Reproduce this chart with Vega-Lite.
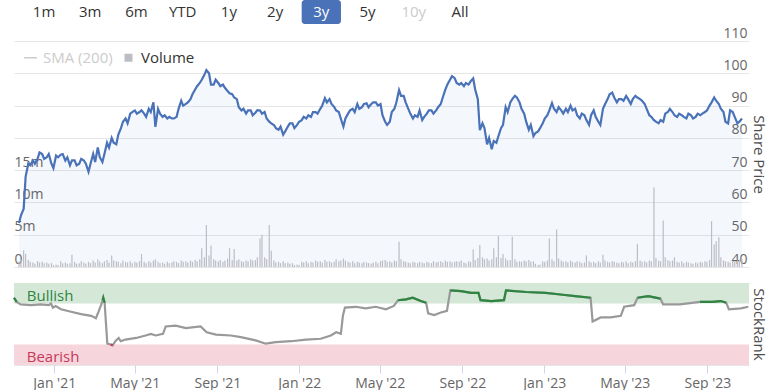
{
"$schema":"https://vega.github.io/schema/vega-lite/v6.json",
"padding":{"left":9,"top":0,"right":6,"bottom":0},
"config":{"font":"Open Sans","view":{"stroke":null},"axis":{"labelFontSize":14,"labelColor":"#666666","titleFontSize":15,"titleFontWeight":"normal","titleColor":"#4d4d4d"}},
"datasets":{
"btn":[{"b":"1m","s":"n"},{"b":"3m","s":"n"},{"b":"6m","s":"n"},{"b":"YTD","s":"n"},{"b":"1y","s":"n"},{"b":"2y","s":"n"},{"b":"3y","s":"sel"},{"b":"5y","s":"n"},{"b":"10y","s":"dis"},{"b":"All","s":"n"}],
"bands":[{"z":"Bullish","lo":75,"hi":100,"d":"2020-11-21"},{"z":"Bearish","lo":0,"hi":25,"d":"2020-11-21"}],
"px":[
{"d":"2020-11-02","p":53.6,"v":0.9},{"d":"2020-11-05","p":56,"v":1.2},{"d":"2020-11-09","p":58,"v":2.6},{"d":"2020-11-12","p":68,"v":2.0},
{"d":"2020-11-16","p":72,"v":1.1},{"d":"2020-11-19","p":71.5,"v":0.8},{"d":"2020-11-23","p":73,"v":0.7},{"d":"2020-11-26","p":72,"v":0.5},
{"d":"2020-11-30","p":73.5,"v":0.9},{"d":"2020-12-03","p":75.5,"v":0.7},{"d":"2020-12-07","p":75,"v":0.8},{"d":"2020-12-10","p":73.5,"v":0.6},
{"d":"2020-12-14","p":74,"v":0.7},{"d":"2020-12-17","p":75,"v":0.5},{"d":"2020-12-21","p":72,"v":0.6},{"d":"2020-12-24","p":70.6,"v":0.3},
{"d":"2020-12-28","p":74.5,"v":0.4},{"d":"2020-12-31","p":74,"v":0.3},{"d":"2021-01-04","p":74.8,"v":0.9},{"d":"2021-01-07","p":75,"v":0.6},
{"d":"2021-01-11","p":73,"v":0.7},{"d":"2021-01-14","p":74,"v":0.5},{"d":"2021-01-18","p":71.5,"v":0.6},{"d":"2021-01-21","p":73,"v":1.9},
{"d":"2021-01-25","p":73,"v":0.8},{"d":"2021-01-28","p":71.5,"v":0.5},{"d":"2021-02-01","p":72,"v":0.6},{"d":"2021-02-04","p":73.5,"v":0.9},
{"d":"2021-02-08","p":73,"v":0.7},{"d":"2021-02-11","p":72,"v":0.5},{"d":"2021-02-15","p":69.5,"v":0.8},{"d":"2021-02-18","p":72,"v":0.6},
{"d":"2021-02-22","p":75,"v":1.0},{"d":"2021-02-25","p":72.5,"v":0.7},{"d":"2021-03-01","p":77,"v":1.2},{"d":"2021-03-04","p":74,"v":0.8},
{"d":"2021-03-08","p":72.5,"v":0.6},{"d":"2021-03-11","p":75,"v":0.9},{"d":"2021-03-15","p":78.5,"v":1.1},{"d":"2021-03-18","p":77,"v":0.7},
{"d":"2021-03-22","p":80,"v":1.8},{"d":"2021-03-25","p":78.5,"v":1.0},{"d":"2021-03-29","p":78,"v":0.9},{"d":"2021-04-01","p":81,"v":0.8},
{"d":"2021-04-05","p":83,"v":0.6},{"d":"2021-04-08","p":85,"v":1.0},{"d":"2021-04-12","p":86,"v":0.8},{"d":"2021-04-15","p":84.5,"v":0.7},
{"d":"2021-04-19","p":87.5,"v":0.9},{"d":"2021-04-22","p":88,"v":0.6},{"d":"2021-04-26","p":88.5,"v":0.8},{"d":"2021-04-29","p":87.5,"v":0.7},
{"d":"2021-05-03","p":88,"v":0.9},{"d":"2021-05-06","p":88.5,"v":2.0},{"d":"2021-05-10","p":87.5,"v":0.8},{"d":"2021-05-13","p":86.5,"v":0.6},
{"d":"2021-05-17","p":89,"v":0.9},{"d":"2021-05-20","p":88,"v":0.7},{"d":"2021-05-24","p":91,"v":1.0},{"d":"2021-05-27","p":83.4,"v":1.2},
{"d":"2021-05-31","p":89,"v":0.8},{"d":"2021-06-03","p":87.5,"v":0.6},{"d":"2021-06-07","p":86.5,"v":0.7},{"d":"2021-06-10","p":87,"v":0.5},
{"d":"2021-06-14","p":86,"v":0.8},{"d":"2021-06-17","p":86.5,"v":0.6},{"d":"2021-06-21","p":86,"v":0.7},{"d":"2021-06-24","p":86,"v":0.9},
{"d":"2021-06-28","p":86.5,"v":0.8},{"d":"2021-07-01","p":89,"v":0.6},{"d":"2021-07-05","p":91.5,"v":1.0},{"d":"2021-07-08","p":90,"v":0.8},
{"d":"2021-07-12","p":90.5,"v":0.9},{"d":"2021-07-15","p":91,"v":0.7},{"d":"2021-07-19","p":92,"v":1.0},{"d":"2021-07-22","p":93.5,"v":0.8},
{"d":"2021-07-26","p":95,"v":1.1},{"d":"2021-07-29","p":96,"v":0.9},{"d":"2021-08-02","p":97,"v":1.2},{"d":"2021-08-05","p":98,"v":2.9},
{"d":"2021-08-09","p":99.5,"v":1.5},{"d":"2021-08-12","p":101,"v":6.5},{"d":"2021-08-16","p":100,"v":1.8},{"d":"2021-08-19","p":96.5,"v":3.3},
{"d":"2021-08-23","p":96.5,"v":1.2},{"d":"2021-08-26","p":98,"v":1.0},{"d":"2021-08-30","p":97,"v":0.9},{"d":"2021-09-02","p":96,"v":1.1},
{"d":"2021-09-06","p":96.5,"v":0.8},{"d":"2021-09-09","p":95.5,"v":1.0},{"d":"2021-09-13","p":94.5,"v":1.3},{"d":"2021-09-16","p":93.8,"v":2.9},
{"d":"2021-09-20","p":93.5,"v":1.1},{"d":"2021-09-23","p":92.5,"v":2.8},{"d":"2021-09-27","p":92,"v":1.0},{"d":"2021-09-30","p":89.5,"v":1.2},
{"d":"2021-10-04","p":88.5,"v":0.9},{"d":"2021-10-07","p":89,"v":0.8},{"d":"2021-10-11","p":87.5,"v":1.0},{"d":"2021-10-14","p":88.5,"v":0.9},
{"d":"2021-10-18","p":88.5,"v":1.2},{"d":"2021-10-21","p":87,"v":1.0},{"d":"2021-10-25","p":87.8,"v":1.1},{"d":"2021-10-28","p":88.6,"v":1.5},
{"d":"2021-11-01","p":88.5,"v":4.4},{"d":"2021-11-04","p":87.5,"v":5.0},{"d":"2021-11-08","p":88,"v":1.5},{"d":"2021-11-11","p":86,"v":1.2},
{"d":"2021-11-15","p":85,"v":6.5},{"d":"2021-11-18","p":84.5,"v":2.5},{"d":"2021-11-22","p":84,"v":1.0},{"d":"2021-11-25","p":83,"v":0.7},
{"d":"2021-11-29","p":82.5,"v":0.8},{"d":"2021-12-02","p":83.5,"v":0.6},{"d":"2021-12-06","p":81,"v":0.9},{"d":"2021-12-09","p":82,"v":0.6},
{"d":"2021-12-13","p":83.5,"v":0.7},{"d":"2021-12-16","p":84.5,"v":0.5},{"d":"2021-12-20","p":84.5,"v":0.6},{"d":"2021-12-23","p":83,"v":0.3},
{"d":"2021-12-27","p":84,"v":0.4},{"d":"2021-12-30","p":85,"v":0.3},{"d":"2022-01-03","p":85.5,"v":0.8},{"d":"2022-01-06","p":86.5,"v":0.7},
{"d":"2022-01-10","p":86,"v":0.9},{"d":"2022-01-13","p":87,"v":0.6},{"d":"2022-01-17","p":86.5,"v":0.8},{"d":"2022-01-20","p":88,"v":0.7},
{"d":"2022-01-24","p":88,"v":1.0},{"d":"2022-01-27","p":87.5,"v":0.8},{"d":"2022-01-31","p":89,"v":0.9},{"d":"2022-02-03","p":90,"v":0.7},
{"d":"2022-02-07","p":92.3,"v":1.1},{"d":"2022-02-10","p":91,"v":0.8},{"d":"2022-02-14","p":92,"v":0.9},{"d":"2022-02-17","p":90.5,"v":0.7},
{"d":"2022-02-21","p":89.6,"v":0.8},{"d":"2022-02-24","p":88.5,"v":1.2},{"d":"2022-02-28","p":88,"v":0.9},{"d":"2022-03-03","p":86,"v":1.0},
{"d":"2022-03-07","p":83.5,"v":1.3},{"d":"2022-03-10","p":86,"v":1.0},{"d":"2022-03-14","p":87.5,"v":0.8},{"d":"2022-03-17","p":88.5,"v":0.7},
{"d":"2022-03-21","p":89,"v":0.9},{"d":"2022-03-24","p":88,"v":0.6},{"d":"2022-03-28","p":90.5,"v":0.8},{"d":"2022-03-31","p":89,"v":0.7},
{"d":"2022-04-04","p":89.5,"v":0.6},{"d":"2022-04-07","p":90.5,"v":0.8},{"d":"2022-04-11","p":90.7,"v":0.7},{"d":"2022-04-14","p":89.5,"v":0.6},
{"d":"2022-04-18","p":90.5,"v":0.5},{"d":"2022-04-21","p":91,"v":0.7},{"d":"2022-04-25","p":91,"v":0.8},{"d":"2022-04-28","p":90,"v":0.6},
{"d":"2022-05-02","p":90.5,"v":0.9},{"d":"2022-05-05","p":87,"v":1.0},{"d":"2022-05-09","p":85,"v":1.1},{"d":"2022-05-12","p":84,"v":0.8},
{"d":"2022-05-16","p":85,"v":0.9},{"d":"2022-05-19","p":88,"v":0.7},{"d":"2022-05-23","p":89,"v":1.0},{"d":"2022-05-26","p":91,"v":0.9},
{"d":"2022-05-30","p":94.8,"v":3.9},{"d":"2022-06-02","p":93,"v":1.2},{"d":"2022-06-06","p":93,"v":0.9},{"d":"2022-06-09","p":91,"v":0.8},
{"d":"2022-06-13","p":89,"v":0.7},{"d":"2022-06-16","p":87.5,"v":0.6},{"d":"2022-06-20","p":86,"v":0.8},{"d":"2022-06-23","p":87,"v":0.7},
{"d":"2022-06-27","p":86.5,"v":0.6},{"d":"2022-06-30","p":88.5,"v":0.8},{"d":"2022-07-04","p":85.5,"v":0.7},{"d":"2022-07-07","p":86.5,"v":0.6},
{"d":"2022-07-11","p":87.5,"v":0.8},{"d":"2022-07-14","p":88.5,"v":0.7},{"d":"2022-07-18","p":88.5,"v":0.6},{"d":"2022-07-21","p":87.5,"v":0.9},
{"d":"2022-07-25","p":88.5,"v":0.7},{"d":"2022-07-28","p":89.5,"v":0.8},{"d":"2022-08-01","p":90.5,"v":0.9},{"d":"2022-08-04","p":92.5,"v":0.7},
{"d":"2022-08-08","p":95,"v":1.0},{"d":"2022-08-11","p":96.5,"v":0.8},{"d":"2022-08-15","p":98,"v":0.9},{"d":"2022-08-18","p":99.1,"v":0.7},
{"d":"2022-08-22","p":98.5,"v":0.8},{"d":"2022-08-25","p":97,"v":0.9},{"d":"2022-08-29","p":96.5,"v":0.8},{"d":"2022-09-01","p":97,"v":1.0},
{"d":"2022-09-05","p":96,"v":0.7},{"d":"2022-09-08","p":97,"v":0.6},{"d":"2022-09-12","p":96.5,"v":0.9},{"d":"2022-09-15","p":97.5,"v":0.8},
{"d":"2022-09-19","p":98.4,"v":2.7},{"d":"2022-09-22","p":95,"v":1.1},{"d":"2022-09-26","p":92,"v":1.4},{"d":"2022-09-29","p":82.4,"v":3.4},
{"d":"2022-10-03","p":84.5,"v":1.5},{"d":"2022-10-06","p":83,"v":1.2},{"d":"2022-10-10","p":78,"v":1.3},{"d":"2022-10-13","p":80,"v":1.0},
{"d":"2022-10-17","p":76.5,"v":1.2},{"d":"2022-10-20","p":79,"v":2.9},{"d":"2022-10-24","p":78.5,"v":1.5},{"d":"2022-10-27","p":80.5,"v":4.8},
{"d":"2022-10-31","p":83,"v":1.4},{"d":"2022-11-03","p":84,"v":2.0},{"d":"2022-11-07","p":89.5,"v":1.3},{"d":"2022-11-10","p":88,"v":1.0},
{"d":"2022-11-14","p":91,"v":1.1},{"d":"2022-11-17","p":92,"v":4.7},{"d":"2022-11-21","p":93,"v":1.2},{"d":"2022-11-24","p":92.5,"v":0.8},
{"d":"2022-11-28","p":91,"v":0.9},{"d":"2022-12-01","p":89,"v":0.8},{"d":"2022-12-05","p":87.5,"v":1.0},{"d":"2022-12-08","p":85,"v":0.9},
{"d":"2022-12-12","p":82.5,"v":1.1},{"d":"2022-12-15","p":84,"v":0.8},{"d":"2022-12-19","p":80.5,"v":0.9},{"d":"2022-12-22","p":81.5,"v":0.5},
{"d":"2022-12-26","p":82,"v":0.3},{"d":"2022-12-29","p":83,"v":0.4},{"d":"2023-01-02","p":84.5,"v":0.9},{"d":"2023-01-05","p":86,"v":0.8},
{"d":"2023-01-09","p":87,"v":1.0},{"d":"2023-01-12","p":88.5,"v":4.4},{"d":"2023-01-16","p":90.8,"v":1.2},{"d":"2023-01-19","p":89,"v":0.9},
{"d":"2023-01-23","p":88,"v":5.8},{"d":"2023-01-26","p":89.5,"v":1.3},{"d":"2023-01-30","p":88.5,"v":1.0},{"d":"2023-02-02","p":87.5,"v":0.8},
{"d":"2023-02-06","p":89,"v":0.9},{"d":"2023-02-09","p":88,"v":0.7},{"d":"2023-02-13","p":90,"v":1.0},{"d":"2023-02-16","p":88.5,"v":0.8},
{"d":"2023-02-20","p":89,"v":0.7},{"d":"2023-02-23","p":87,"v":0.9},{"d":"2023-02-27","p":86,"v":0.8},{"d":"2023-03-02","p":87.5,"v":0.6},
{"d":"2023-03-06","p":87,"v":0.7},{"d":"2023-03-09","p":85.5,"v":1.8},{"d":"2023-03-13","p":84,"v":0.9},{"d":"2023-03-16","p":87,"v":0.7},
{"d":"2023-03-20","p":88.5,"v":0.8},{"d":"2023-03-23","p":86.5,"v":0.6},{"d":"2023-03-27","p":85,"v":0.9},{"d":"2023-03-30","p":84,"v":0.7},
{"d":"2023-04-03","p":89,"v":1.9},{"d":"2023-04-06","p":90.4,"v":1.0},{"d":"2023-04-10","p":92,"v":0.8},{"d":"2023-04-13","p":93.5,"v":0.7},
{"d":"2023-04-17","p":94,"v":0.9},{"d":"2023-04-20","p":92.5,"v":0.8},{"d":"2023-04-24","p":91,"v":0.7},{"d":"2023-04-27","p":92,"v":0.6},
{"d":"2023-05-01","p":92,"v":0.8},{"d":"2023-05-04","p":91.5,"v":0.7},{"d":"2023-05-08","p":93,"v":0.9},{"d":"2023-05-11","p":92,"v":0.6},
{"d":"2023-05-15","p":90.5,"v":0.8},{"d":"2023-05-18","p":92,"v":0.7},{"d":"2023-05-22","p":93,"v":0.9},{"d":"2023-05-25","p":92.5,"v":3.6},
{"d":"2023-05-29","p":92,"v":1.0},{"d":"2023-06-01","p":91.5,"v":0.8},{"d":"2023-06-05","p":90.5,"v":0.9},{"d":"2023-06-08","p":89,"v":0.7},
{"d":"2023-06-12","p":87,"v":1.0},{"d":"2023-06-15","p":86.5,"v":0.9},{"d":"2023-06-19","p":85.5,"v":12.3},{"d":"2023-06-22","p":85,"v":1.4},
{"d":"2023-06-26","p":84.5,"v":1.0},{"d":"2023-06-29","p":85.5,"v":0.9},{"d":"2023-07-03","p":85,"v":7.2},{"d":"2023-07-06","p":87.5,"v":1.5},
{"d":"2023-07-10","p":88,"v":1.1},{"d":"2023-07-13","p":89,"v":0.9},{"d":"2023-07-17","p":88,"v":1.0},{"d":"2023-07-20","p":87,"v":1.5},
{"d":"2023-07-24","p":86.5,"v":0.8},{"d":"2023-07-27","p":87.5,"v":0.7},{"d":"2023-07-31","p":87,"v":0.9},{"d":"2023-08-03","p":86.5,"v":0.6},
{"d":"2023-08-07","p":86,"v":0.8},{"d":"2023-08-10","p":87.5,"v":0.7},{"d":"2023-08-14","p":87,"v":0.6},{"d":"2023-08-17","p":86,"v":0.5},
{"d":"2023-08-21","p":86.5,"v":0.7},{"d":"2023-08-24","p":87.5,"v":0.6},{"d":"2023-08-28","p":87,"v":0.8},{"d":"2023-08-31","p":87.5,"v":0.7},
{"d":"2023-09-04","p":88,"v":0.9},{"d":"2023-09-07","p":88.5,"v":0.8},{"d":"2023-09-11","p":90,"v":1.1},{"d":"2023-09-14","p":91,"v":7.1},
{"d":"2023-09-18","p":92.5,"v":3.5},{"d":"2023-09-21","p":91.5,"v":4.0},{"d":"2023-09-25","p":90.5,"v":4.6},{"d":"2023-09-28","p":89,"v":1.5},
{"d":"2023-10-02","p":88,"v":1.0},{"d":"2023-10-05","p":85,"v":0.9},{"d":"2023-10-09","p":84.5,"v":0.8},{"d":"2023-10-12","p":88.5,"v":0.7},
{"d":"2023-10-16","p":88,"v":0.9},{"d":"2023-10-19","p":86.5,"v":0.8},{"d":"2023-10-23","p":84.5,"v":1.0},{"d":"2023-10-26","p":85,"v":0.9},
{"d":"2023-10-30","p":86,"v":1.2}
],
"rk":[
{"d":"2020-11-02","r":82,"g":82},{"d":"2020-11-06","r":77,"g":77},{"d":"2020-11-12","r":74},{"d":"2020-11-27","r":73},{"d":"2020-12-12","r":74},
{"d":"2020-12-24","r":73},{"d":"2020-12-27","r":75},{"d":"2020-12-30","r":70},{"d":"2021-01-03","r":72},{"d":"2021-01-11","r":68},
{"d":"2021-01-26","r":65},{"d":"2021-02-10","r":62},{"d":"2021-02-25","r":60},{"d":"2021-03-04","r":57},{"d":"2021-03-08","r":65},
{"d":"2021-03-12","r":74},{"d":"2021-03-14","r":79,"g":79},{"d":"2021-03-15","r":82,"g":82},{"d":"2021-03-17","r":76,"g":76},{"d":"2021-03-21","r":26},
{"d":"2021-03-26","r":25,"b":25},{"d":"2021-03-29","r":24,"b":24},{"d":"2021-04-02","r":29},{"d":"2021-04-07","r":33},{"d":"2021-04-10","r":29},
{"d":"2021-04-17","r":31},{"d":"2021-05-03","r":33},{"d":"2021-05-17","r":36},{"d":"2021-05-25","r":38},{"d":"2021-06-01","r":36},
{"d":"2021-06-12","r":38},{"d":"2021-06-16","r":47},{"d":"2021-07-01","r":48},{"d":"2021-07-16","r":45},{"d":"2021-08-07","r":47},
{"d":"2021-08-16","r":40},{"d":"2021-08-30","r":37},{"d":"2021-09-21","r":36},{"d":"2021-10-06","r":34},{"d":"2021-10-28","r":30},
{"d":"2021-11-12","r":26},{"d":"2021-11-27","r":28},{"d":"2021-12-20","r":29},{"d":"2022-01-11","r":31},{"d":"2022-02-02","r":32},
{"d":"2022-02-17","r":36},{"d":"2022-02-25","r":40},{"d":"2022-03-04","r":38},{"d":"2022-03-07","r":60},{"d":"2022-03-10","r":70},
{"d":"2022-03-26","r":71},{"d":"2022-04-10","r":69},{"d":"2022-04-25","r":71},{"d":"2022-05-10","r":68},{"d":"2022-05-22","r":72},
{"d":"2022-05-28","r":79,"g":79},{"d":"2022-06-09","r":80,"g":80},{"d":"2022-06-19","r":82,"g":82},{"d":"2022-07-01","r":78,"g":78},{"d":"2022-07-09","r":76,"g":76},
{"d":"2022-07-12","r":63},{"d":"2022-07-21","r":61},{"d":"2022-07-31","r":64},{"d":"2022-08-09","r":66},
{"d":"2022-08-14","r":91,"g":91},{"d":"2022-08-30","r":90,"g":90},{"d":"2022-09-14","r":88,"g":88},{"d":"2022-09-25","r":88,"g":88},{"d":"2022-09-28","r":79,"g":79},
{"d":"2022-10-14","r":78,"g":78},{"d":"2022-11-02","r":79,"g":79},{"d":"2022-11-05","r":91,"g":91},{"d":"2022-12-05","r":89,"g":89},{"d":"2023-01-03","r":88,"g":88},
{"d":"2023-01-25","r":86,"g":86},{"d":"2023-02-16","r":84,"g":84},{"d":"2023-03-11","r":82,"g":82},{"d":"2023-03-14","r":53},{"d":"2023-03-26","r":58},
{"d":"2023-04-10","r":58},{"d":"2023-04-25","r":60},{"d":"2023-04-30","r":71},{"d":"2023-05-15","r":73},{"d":"2023-05-20","r":82,"g":82},
{"d":"2023-06-05","r":84,"g":84},{"d":"2023-06-23","r":81,"g":81},{"d":"2023-06-27","r":74},{"d":"2023-07-22","r":74},{"d":"2023-08-21","r":77,"g":77},
{"d":"2023-09-08","r":77,"g":77},{"d":"2023-09-21","r":78,"g":78},{"d":"2023-09-29","r":76,"g":76},{"d":"2023-10-03","r":68},{"d":"2023-10-21","r":69},
{"d":"2023-11-01","r":71}
]
},
"spacing":2,
"resolve":{"scale":{"color":"independent"},"legend":{"color":"independent"}},
"vconcat":[
{
"width":476,"height":24,
"data":{"name":"btn"},
"layer":[
{"transform":[{"filter":"datum.s == 'sel'"}],
 "mark":{"type":"bar","cornerRadius":3,"color":"#4a72b8","width":{"band":0.85}},
 "encoding":{"x":{"field":"b","type":"nominal","sort":null,"scale":{"domain":["1m","3m","6m","YTD","1y","2y","3y","5y","10y","All"],"paddingOuter":0.15,"paddingInner":0},"axis":null}}},
{"mark":{"type":"text","fontSize":15,"baseline":"middle"},
 "encoding":{"x":{"field":"b","type":"nominal","sort":null},
  "text":{"field":"b"},
  "color":{"field":"s","type":"nominal","scale":{"domain":["n","sel","dis"],"range":["#333333","#ffffff","#cccccc"]},"legend":null}}}
]
},
{
"spacing":16,
"vconcat":[
{
"width":735,"height":226,
"data":{"name":"px"},
"layer":[
{"mark":{"type":"area","color":"#4a72b8","opacity":0.06},
 "encoding":{
  "x":{"field":"d","type":"temporal","scale":{"domain":[{"year":2020,"month":11,"date":2},{"year":2023,"month":11,"date":2}]},"axis":null},
  "y":{"field":"p","type":"quantitative","scale":{"domain":[40,110],"nice":false,"zero":false},
   "axis":{"orient":"right","values":[40,50,60,70,80,90,100,110],"grid":true,"gridColor":"#e6e6e6","domain":false,"ticks":false,"labelAlign":"right","labelBaseline":"alphabetic","labelOffset":-4,"labelPadding":-2,"title":"Share Price","titlePadding":1}},
  "y2":{"datum":40}}},
{"mark":{"type":"bar","width":1.2},
 "encoding":{
  "x":{"field":"d","type":"temporal"},
  "y":{"field":"v","type":"quantitative","scale":{"domain":[0,35],"nice":false},
   "axis":{"orient":"left","values":[0,5,10,15],"grid":false,"domain":false,"ticks":false,"labelAlign":"left","labelBaseline":"alphabetic","labelOffset":-4,"labelPadding":0,"labelExpr":"datum.value == 0 ? '0' : datum.value + 'm'","title":null}},
  "color":{"datum":"Volume","type":"nominal","scale":{"domain":["SMA (200)","Volume"],"range":["#cccccc","#bdbdc5"]},
   "legend":{"orient":"top-left","offset":9,"padding":0,"direction":"horizontal","title":null,"labelFontSize":15,"labelColor":"#333333","symbolSize":81,"symbolOpacity":1,"labelOffset":5,"columnPadding":8,
    "encode":{"symbols":{"update":{"shape":{"signal":"datum.value === 'Volume' ? 'square' : 'stroke'"},"size":{"signal":"datum.value === 'Volume' ? 64 : 169"},"fill":{"signal":"datum.value === 'Volume' ? '#a8a8b0' : 'transparent'"},"stroke":{"signal":"datum.value === 'Volume' ? 'transparent' : '#cccccc'"},"strokeWidth":{"value":1.5}}},
              "labels":{"update":{"fill":{"signal":"datum.value === 'Volume' ? '#333333' : '#cccccc'"}}}}}}}},
{"mark":{"type":"line","color":"#4a72b8","strokeWidth":2.2},
 "encoding":{
  "x":{"field":"d","type":"temporal"},
  "y":{"field":"p","type":"quantitative","scale":{"domain":[40,110],"nice":false,"zero":false},"axis":null}}}
],
"resolve":{"scale":{"y":"independent"}}
},
{
"width":735,"height":82,
"layer":[
{"data":{"name":"bands"},"mark":{"type":"rect"},
 "encoding":{
  "y":{"field":"lo","type":"quantitative","scale":{"domain":[0,100],"nice":false},
   "axis":{"orient":"right","values":[0,100],"grid":true,"gridColor":"#e6e6e6","domain":false,"ticks":false,"labelAlign":"right","labelBaseline":"alphabetic","labelOffset":-4,"labelPadding":-2,"labelExpr":"datum.value == 0 ? '0' : ''","title":"StockRank","titlePadding":1}},
  "y2":{"field":"hi"},
  "fill":{"field":"z","type":"nominal","scale":{"domain":["Bullish","Bearish"],"range":["#d5e8d8","#f6d6dc"]},"legend":null}}},
{"data":{"name":"bands"},"transform":[{"filter":"datum.z == 'Bullish'"}],"mark":{"type":"text","align":"left","baseline":"alphabetic","dy":-3,"fontSize":15,"color":"#2e8540"},
 "encoding":{
  "x":{"field":"d","type":"temporal"},
  "y":{"field":"lo","type":"quantitative","title":"StockRank"},
  "text":{"field":"z"}}},
{"data":{"name":"bands"},"transform":[{"filter":"datum.z == 'Bearish'"}],"mark":{"type":"text","align":"left","baseline":"alphabetic","dy":-3,"fontSize":15,"color":"#c8385a"},
 "encoding":{
  "x":{"field":"d","type":"temporal"},
  "y":{"field":"lo","type":"quantitative","title":"StockRank"},
  "text":{"field":"z"}}},
{"data":{"name":"rk"},"mark":{"type":"line","color":"#999999","strokeWidth":2.2},
 "encoding":{
  "x":{"field":"d","type":"temporal","scale":{"domain":[{"year":2020,"month":11,"date":2},{"year":2023,"month":11,"date":2}]},
   "axis":{"orient":"bottom","tickCount":{"interval":"month","step":4},"format":"%b '%y","grid":false,"domain":false,"ticks":true,"tickSize":8,"tickColor":"#ccd6eb","labelPadding":3,"labelFlush":false,"title":null}},
  "y":{"field":"r","type":"quantitative","title":"StockRank"}}},
{"data":{"name":"rk"},"mark":{"type":"line","color":"#2e8540","strokeWidth":2.2,"invalid":"break-paths-filter-domains"},
 "encoding":{"x":{"field":"d","type":"temporal"},"y":{"field":"g","type":"quantitative","title":"StockRank"}}},
{"data":{"name":"rk"},"mark":{"type":"line","color":"#d0344f","strokeWidth":2.2,"invalid":"break-paths-filter-domains"},
 "encoding":{"x":{"field":"d","type":"temporal"},"y":{"field":"b","type":"quantitative","title":"StockRank"}}}
]
}
]
}
]
}
